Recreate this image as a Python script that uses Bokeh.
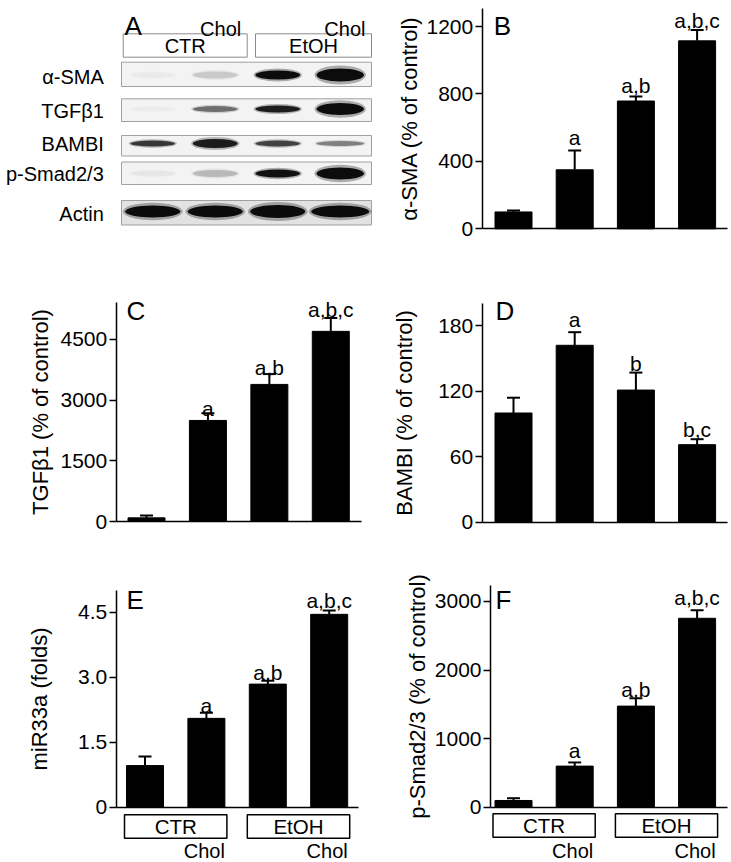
from bokeh.plotting import figure
from bokeh.layouts import column, row
from bokeh.models import Range1d, FixedTicker, ColumnDataSource
from bokeh.core.properties import value
from bokeh.embed import file_html
from bokeh.resources import INLINE

FONT = "Liberation Sans"

# ---------------- data ----------------
categories = ["CTR", "CTR+Chol", "EtOH", "EtOH+Chol"]
groups = ["CTR", "EtOH"]
group_members = [[0, 1], [2, 3]]
chol_label = "Chol"

sma_mean = [100, 350, 758, 1115]
sma_err = [8, 115, 27, 64]
sma_sig = ["", "a", "a,b", "a,b,c"]
sma_ticks = [0, 400, 800, 1200]

tgf_mean = [90, 2495, 3385, 4695]
tgf_err = [58, 180, 255, 330]
tgf_sig = ["", "a", "a,b", "a,b,c"]
tgf_ticks = [0, 1500, 3000, 4500]

bambi_mean = [100, 162, 121, 71]
bambi_err = [14, 12, 16, 5]
bambi_sig = ["", "a", "b", "b,c"]
bambi_ticks = [0, 60, 120, 180]

mir_mean = [0.96, 2.05, 2.84, 4.45]
mir_err = [0.21, 0.13, 0.08, 0.09]
mir_sig = ["", "a", "a,b", "a,b,c"]
mir_ticks = [0, 1.5, 3.0, 4.5]
mir_tick_labels = ["0", "1.5", "3.0", "4.5"]

psmad_mean = [98, 599, 1474, 2755]
psmad_err = [33, 54, 113, 117]
psmad_sig = ["", "a", "a,b", "a,b,c"]
psmad_ticks = [0, 1000, 2000, 3000]

# western blot: band density per lane (0 none .. 1 saturated) and band thickness
blot_rows = ["α-SMA", "TGFβ1", "BAMBI", "p-Smad2/3", "Actin"]
blot_density = [
    [0.03, 0.14, 1.0, 1.0],
    [0.02, 0.5, 0.9, 1.0],
    [0.75, 0.9, 0.7, 0.42],
    [0.04, 0.2, 0.97, 1.0],
    [1.0, 1.0, 1.0, 1.0],
]
blot_thickness = [
    [6, 7, 9, 13],
    [5, 6, 7, 12],
    [6, 9, 6, 5],
    [6, 7, 8, 12],
    [12, 12, 13, 12],
]


def base_figure(w, h, xr, yr):
    p = figure(width=w, height=h, x_range=xr, y_range=yr, output_backend="svg",
               toolbar_location=None, tools="", min_border=0)
    p.outline_line_color = None
    p.grid.visible = False
    return p


# ---------------- panel A (blot) ----------------
pa = figure(width=380, height=250, x_range=Range1d(0, 380), y_range=Range1d(250, 0),
            output_backend="svg", toolbar_location=None, x_axis_type=None,
            y_axis_type=None, min_border=0, tools="")
pa.outline_line_color = None
pa.grid.visible = False

strip_left, strip_right = 121, 371
lane_w = (strip_right - strip_left) / len(categories)
strip_spans = [(61.7, 86), (98.3, 121), (135, 155.5), (161.5, 184), (200, 224.5)]
band_y = [74.5, 108.5, 143, 173, 211]
band_w = [47, 47, 47, 47, 58]
label_y = [76.7, 110, 143.3, 173.3, 213.3]

pa.quad(left=strip_left, right=strip_right,
        top=[s[0] for s in strip_spans], bottom=[s[1] for s in strip_spans],
        fill_color=["#f3f3f3"] * 4 + ["#e2e2e2"], line_color="#a0a0a0", line_width=1)

bx, by, bw, bh, bd = [], [], [], [], []
for r in range(len(blot_rows)):
    for i in range(len(categories)):
        bx.append(strip_left + (i + 0.5) * lane_w)
        by.append(band_y[r])
        bw.append(band_w[r] + (3 if i == 3 else 0))
        bh.append(blot_thickness[r][i])
        bd.append(blot_density[r][i])
for wf, hf, af in [(1.03, 1.45, 0.3), (0.95, 1.0, 0.97)]:
    pa.ellipse(x=bx, y=by, width=[w * wf for w in bw], height=[h * hf for h in bh],
               fill_color="#060606", fill_alpha=[d * af for d in bd], line_color=None)

hdr_l = [122.7, 255]
hdr_r = [246.7, 371]
pa.quad(left=hdr_l, right=hdr_r, top=33.3, bottom=56.7, fill_color=None,
        line_color="#8a8a8a", line_width=1)
pa.text(x=[(l + r) / 2 for l, r in zip(hdr_l, hdr_r)], y=[45.5, 45.5], text=groups,
        text_align="center", text_baseline="middle", text_font=value(FONT),
        text_font_size="20px", text_color="black")
pa.text(x=[r - 6 for r in hdr_r], y=[28, 28], text=[chol_label, chol_label],
        text_align="right", text_baseline="alphabetic", text_font=value(FONT),
        text_font_size="20px", text_color="black")
pa.text(x=[103.3] * len(blot_rows), y=label_y, text=blot_rows, text_align="right",
        text_baseline="middle", text_font=value(FONT), text_font_size="20px",
        text_color="black")
pa.text(x=[124], y=[25], text=["A"], text_font=value(FONT), text_font_size="26px",
        text_baseline="alphabetic", text_align="left", text_color="black")

# ---------------- bar panels ----------------
BAR_W_PX = 37
CAP_HALF_PX = 6.5
BOX_PAD_PX = 20.5


def bar_panel(mean, err, sig, ticks, ylabel, letter, *, cell, axis_x, zero_y, top_y,
              y_top, bar1_x, step, xend, gaps, title_standoff, letter_pos,
              tick_labels=None, below=False, box_px=(7, 31), chol_px=44):
    x0, y0, w, h = cell
    ppu = (zero_y - top_y) / y_top

    def px2x(px):
        return 1 + (px - bar1_x) / step

    def py2y(py):
        return (zero_y - py) / ppu

    p = base_figure(w, h, Range1d(px2x(x0), px2x(x0 + w)),
                    Range1d(py2y(y0 + h), py2y(y0)))

    xs = [i + 1 for i in range(len(categories))]
    tops = [m + e for m, e in zip(mean, err)]
    cap = CAP_HALF_PX / step
    src = ColumnDataSource(dict(
        x=xs, mean=mean, top=tops,
        cl=[x - cap for x in xs], cr=[x + cap for x in xs],
        sig=sig, sy=[t + g / ppu for t, g in zip(tops, gaps)]))
    p.vbar(x="x", top="mean", bottom=0, width=BAR_W_PX / step, source=src,
           fill_color="black", line_color="black")
    p.segment(x0="x", y0="mean", x1="x", y1="top", source=src,
              line_color="black", line_width=2)
    p.segment(x0="cl", y0="top", x1="cr", y1="top", source=src,
              line_color="black", line_width=2)
    p.text(x="x", y="sy", text="sig", source=src, text_align="center",
           text_baseline="alphabetic", text_font=value(FONT),
           text_font_size="21px", text_color="black")
    p.text(x=[px2x(letter_pos[0])], y=[py2y(letter_pos[1])], text=[letter],
           text_font=value(FONT), text_font_size="26px", text_baseline="alphabetic",
           text_align="left", text_color="black")

    yax = p.yaxis[0]
    yax.fixed_location = px2x(axis_x)
    yax.ticker = FixedTicker(ticks=ticks)
    if tick_labels is not None:
        yax.major_label_overrides = dict(zip(ticks, tick_labels))
    yax.bounds = (0, y_top)
    yax.axis_label = ylabel
    yax.axis_label_text_font = FONT
    yax.axis_label_text_font_size = "22px"
    yax.axis_label_text_font_style = "normal"
    yax.axis_label_text_color = "black"
    yax.axis_label_standoff = title_standoff
    yax.major_label_text_font = FONT
    yax.major_label_text_font_size = "21px"
    yax.major_label_text_color = "black"
    yax.major_label_standoff = 2
    yax.major_tick_in = 0
    yax.major_tick_out = 7
    yax.major_tick_line_width = 1.5
    yax.major_tick_line_color = "black"
    yax.minor_tick_line_color = None
    yax.axis_line_width = 1.5
    yax.axis_line_color = "black"

    xax = p.xaxis[0]
    xax.fixed_location = 0
    xax.bounds = (px2x(axis_x), px2x(xend))
    xax.ticker = FixedTicker(ticks=[])
    xax.major_tick_line_color = None
    xax.minor_tick_line_color = None
    xax.major_label_text_font_size = "0px"
    xax.axis_line_width = 1.5
    xax.axis_line_color = "black"

    if below:
        pad = BOX_PAD_PX / step
        bl = [xs[m[0]] - pad for m in group_members]
        br = [xs[m[-1]] + pad for m in group_members]
        p.quad(left=bl, right=br, top=-box_px[0] / ppu, bottom=-box_px[1] / ppu,
               fill_color=None, line_color="black", line_width=1.5)
        ymid = -(box_px[0] + box_px[1]) / 2 / ppu
        p.text(x=[(l + r) / 2 for l, r in zip(bl, br)], y=[ymid] * len(groups),
               text=groups, text_align="center", text_baseline="middle",
               text_font=value(FONT), text_font_size="20.5px", text_color="black")
        p.text(x=[r - 2 / step for r in br], y=[-chol_px / ppu] * len(groups),
               text=[chol_label] * len(groups), text_align="right",
               text_baseline="alphabetic", text_font=value(FONT),
               text_font_size="20px", text_color="black")
    return p


pb = bar_panel(sma_mean, sma_err, sma_sig, sma_ticks, "α-SMA (% of control)", "B",
               cell=(380, 0, 351, 250), axis_x=481.7, zero_y=228.3, top_y=8.3,
               y_top=1305, bar1_x=513, step=61.2, xend=727,
               gaps=[0, 13, 11, 10], title_standoff=2, letter_pos=(493.3, 25))

pc = bar_panel(tgf_mean, tgf_err, tgf_sig, tgf_ticks, "TGFβ1 (% of control)", "C",
               cell=(0, 250, 380, 305), axis_x=115.7, zero_y=521, top_y=302.3,
               y_top=5400, bar1_x=146, step=61.43, xend=360.7,
               gaps=[0, 5, 7, 8], title_standoff=5, letter_pos=(126, 310))

pd_ = bar_panel(bambi_mean, bambi_err, bambi_sig, bambi_ticks, "BAMBI (% of control)",
                "D", cell=(380, 250, 351, 305), axis_x=481.7, zero_y=521.7,
                top_y=303.3, y_top=200, bar1_x=513, step=61.2, xend=727,
                gaps=[0, 13, 9, 10], title_standoff=18, letter_pos=(495, 310))

pe = bar_panel(mir_mean, mir_err, mir_sig, mir_ticks, "miR33a (folds)", "E",
               cell=(0, 555, 380, 307), axis_x=115.7, zero_y=806.7, top_y=590,
               y_top=5.0, bar1_x=144.5, step=61.4, xend=358.3,
               gaps=[0, 7, 8, 10], title_standoff=23, letter_pos=(126, 599.3),
               tick_labels=mir_tick_labels, below=True, box_px=(7.6, 31),
               chol_px=44)

pf = bar_panel(psmad_mean, psmad_err, psmad_sig, psmad_ticks,
               "p-Smad2/3 (% of control)", "F", cell=(380, 555, 351, 307),
               axis_x=490, zero_y=806.7, top_y=585, y_top=3233, bar1_x=513,
               step=61.2, xend=727, gaps=[0, 12, 9, 13], title_standoff=2,
               letter_pos=(495, 599.3), below=True, box_px=(6.6, 30), chol_px=44)

layout = column(row(pa, pb), row(pc, pd_), row(pe, pf))
open("out.html", "w").write(file_html(layout, INLINE))
